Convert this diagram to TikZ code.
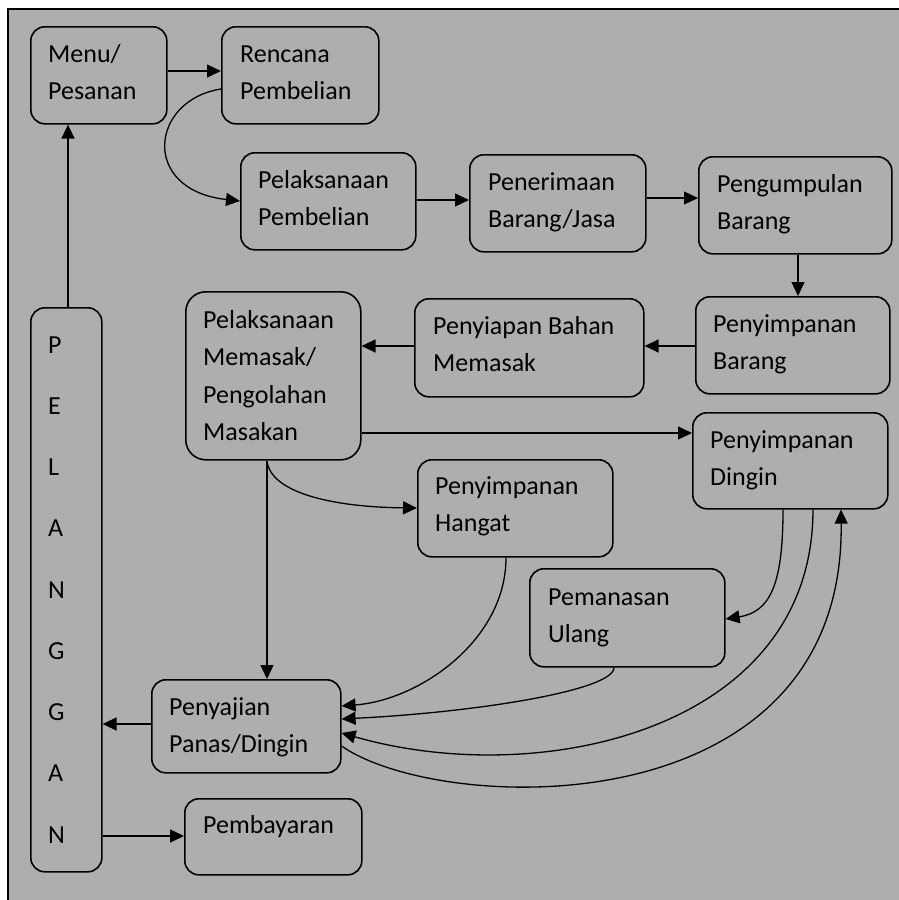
\documentclass[tikz,border=0pt]{standalone}
\usepackage{fontspec}
\setmainfont{Carlito}
\usetikzlibrary{calc,arrows.meta}
\definecolor{bggray}{RGB}{174,174,174}
\tikzset{
  box/.style={draw=black, line width=1.6pt, rounded corners=14pt, anchor=north west, inner sep=0pt},
  txt/.style={anchor=base west, align=left, inner sep=0pt, font=\fontsize{26}{37}\selectfont},
  arr/.style={line width=1.3pt, -{Triangle[length=14pt,width=13pt]}},
}
\begin{document}
\begin{tikzpicture}[x=1pt,y=-1pt]
\useasboundingbox (0,0) rectangle (898,900);
\fill[bggray] (8,9) rectangle (910,910);
\draw[line width=2pt] (910,9) -- (8,9) -- (8,910);

% boxes
\node[box, minimum width=136pt, minimum height=97pt] (menu) at (30,26) {};
\node[box, minimum width=157pt, minimum height=97pt] (renc) at (221,26) {};
\node[box, minimum width=175pt, minimum height=97pt] (pelb) at (240,152) {};
\node[box, minimum width=176pt, minimum height=97pt] (pener) at (469,154) {};
\node[box, minimum width=193pt, minimum height=97pt] (pengum) at (698,156) {};
\node[box, minimum width=194pt, minimum height=97pt] (simpb) at (695,296) {};
\node[box, minimum width=229pt, minimum height=98pt] (siap) at (414,298) {};
\node[box, minimum width=175pt, minimum height=168pt, rounded corners=20pt] (masak) at (185,291) {};
\node[box, minimum width=195pt, minimum height=97pt] (hangat) at (417,459) {};
\node[box, minimum width=195pt, minimum height=96pt] (dingin) at (692,412) {};
\node[box, minimum width=195pt, minimum height=98pt] (panas) at (529,568) {};
\node[box, minimum width=189pt, minimum height=93pt] (saji) at (151,679) {};
\node[box, minimum width=177pt, minimum height=76pt] (bayar) at (184,798) {};
\node[box, minimum width=71pt, minimum height=564pt] (pel) at (30,307) {};

% texts (anchor = baseline of the last line)
\node[txt] (menu-t) at ($(menu.north west)+(18,73)$) {Menu/\\Pesanan};
\node[txt] (renc-t) at ($(renc.north west)+(19,73)$) {Rencana\\Pembelian};
\node[txt] (pelb-t) at ($(pelb.north west)+(18,73)$) {Pelaksanaan\\Pembelian};
\node[txt] (pener-t) at ($(pener.north west)+(19,73)$) {Penerimaan\\Barang/Jasa};
\node[txt] (pengum-t) at ($(pengum.north west)+(19,73)$) {Pengumpulan\\Barang};
\node[txt] (simpb-t) at ($(simpb.north west)+(18,73)$) {Penyimpanan\\Barang};
\node[txt] (siap-t) at ($(siap.north west)+(19,73)$) {Penyiapan Bahan\\Memasak};
\node[txt, font=\fontsize{26}{37.5}\selectfont] (masak-t) at ($(masak.north west)+(18,149.5)$) {Pelaksanaan\\Memasak/\\Pengolahan\\Masakan};
\node[txt] (hangat-t) at ($(hangat.north west)+(18,72)$) {Penyimpanan\\Hangat};
\node[txt] (dingin-t) at ($(dingin.north west)+(18,73)$) {Penyimpanan\\Dingin};
\node[txt] (panas-t) at ($(panas.north west)+(19,74)$) {Pemanasan\\Ulang};
\node[txt] (saji-t) at ($(saji.north west)+(18,73)$) {Penyajian\\Panas/Dingin};
\node[txt] (bayar-t) at ($(bayar.north west)+(19,35)$) {Pembayaran};
\node[txt, font=\fontsize{26}{61.25}\selectfont] (pel-t) at ($(pel.north west)+(18,536)$) {P\\E\\L\\A\\N\\G\\G\\A\\N};

% straight connectors
\coordinate (c1) at ($(menu.north east)+(0,45)$);
\draw[arr] (c1) -- (c1 -| renc.west);
\coordinate (c2) at ($(pelb.north east)+(0,48)$);
\draw[arr] (c2) -- (c2 -| pener.west);
\coordinate (c3) at ($(pener.north east)+(0,44)$);
\draw[arr] (c3) -- (c3 -| pengum.west);
\coordinate (c4) at ($(pengum.south west)+(100,0)$);
\draw[arr] (c4) -- (c4 |- simpb.north);
\coordinate (c5) at ($(simpb.north west)+(0,50)$);
\draw[arr] (c5) -- (c5 -| siap.east);
\coordinate (c6) at ($(siap.north west)+(0,48)$);
\draw[arr] (c6) -- (c6 -| masak.east);
\coordinate (c7) at ($(masak.north east)+(0,142)$);
\draw[arr] (c7) -- (c7 -| dingin.west);
\coordinate (c8) at ($(masak.south west)+(82,0)$);
\draw[arr] (c8) -- (c8 |- saji.north);
\coordinate (c9) at ($(saji.north west)+(0,45)$);
\draw[arr] (c9) -- (c9 -| pel.east);
\coordinate (c10) at ($(pel.north east)+(0,529)$);
\draw[arr] (c10) -- (c10 -| bayar.west);
\coordinate (c11) at ($(pel.north west)+(38,0)$);
\draw[arr] (c11) -- (c11 |- menu.south);

% curved connectors
\draw[arr] ($(renc.north west)+(0,63)$) .. controls (150,100) and (140,190) .. ($(pelb.north west)+(0,49)$);
\draw[arr] (c8) .. controls (270,492) and (330,507) .. ($(hangat.north west)+(0,49)$);
\draw[arr] ($(hangat.south west)+(89,0)$) .. controls (506,640) and (420,700) .. ($(saji.north east)+(0,27)$);
\draw[arr] ($(dingin.south west)+(91,0)$) .. controls (783,585) and (770,612) .. ($(panas.north east)+(0,51)$);
\draw[arr] ($(panas.south west)+(85,0)$) .. controls (614,690) and (480,712) .. ($(saji.north east)+(0,40)$);
\draw[arr] ($(dingin.south west)+(121,0)$) .. controls (813,730) and (540,790) .. ($(saji.north east)+(0,54)$);
\draw[arr] ($(saji.north east)+(0,67)$) .. controls (440,815) and (845,830) .. ($(dingin.south west)+(149,0)$);
\end{tikzpicture}
\end{document}
